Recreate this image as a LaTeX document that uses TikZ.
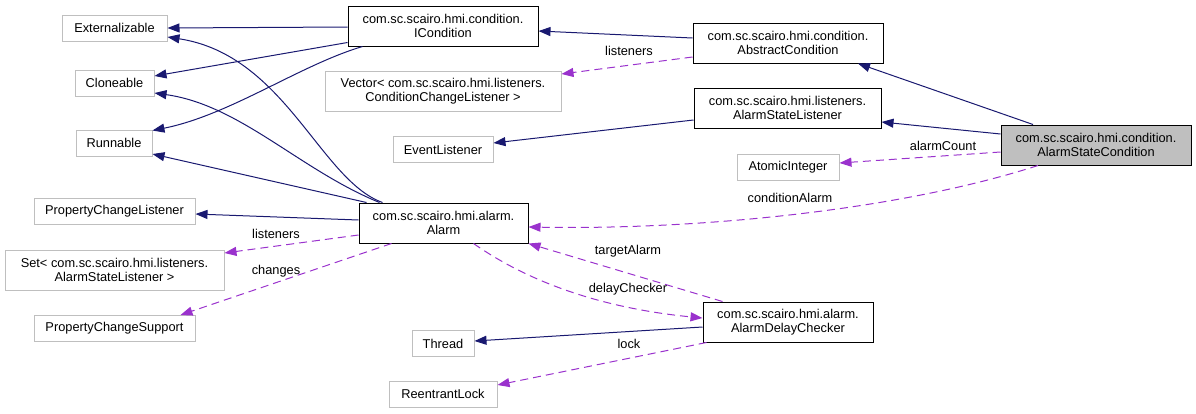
\documentclass[tikz,border=0pt]{standalone}
\usepackage{fontspec}
\setmainfont{Liberation Sans}
\usepackage{xcolor}
\usepackage{tikz}
\usetikzlibrary{arrows.meta, calc}
\definecolor{dxnavy}{HTML}{191970}
\definecolor{dxpurple}{HTML}{9A32CD}
\definecolor{dxgray}{HTML}{BFBFBF}

\begin{document}
\begin{tikzpicture}[x=1pt, y=-1pt,
    every node/.style={font=\fontsize{12.8}{14.5}\selectfont, align=center, inner sep=0pt},
    cls/.style={draw=black, line width=1pt, fill=white, minimum height=40pt},
    extcls/.style={draw=dxgray, line width=1pt, fill=white, minimum height=26pt},
    inherit/.style={dxnavy, line width=1pt, -{Triangle[length=12pt, width=9pt]}},
    member/.style={dxpurple, line width=1pt, dash pattern=on 8pt off 5pt, -{Triangle[length=12pt, width=9pt]}}]
    \useasboundingbox (0,0) rectangle (1196,413);

    \node[extcls, minimum width=105pt] (ext) at (114.5,28) {Externalizable};
    \node[extcls, minimum width=79pt] (clone) at (114.5,83) {Cloneable};
    \node[extcls, minimum width=76pt] (runnable) at (114,143) {Runnable};
    \node[extcls, minimum width=161pt] (pcl) at (114.5,211) {PropertyChangeListener};
    \node[extcls, minimum width=219pt, minimum height=40pt] (setlst) at (114.5,270) {Set< com.sc.scairo.hmi.listeners.\\AlarmStateListener >};
    \node[extcls, minimum width=161pt] (pcs) at (114.5,328.5) {PropertyChangeSupport};

    \node[cls, minimum width=190pt] (icond) at (443,26) {com.sc.scairo.hmi.condition.\\ICondition};
    \node[extcls, minimum width=236pt, minimum height=40pt] (vector) at (443,91) {Vector< com.sc.scairo.hmi.listeners.\\ConditionChangeListener >};
    \node[extcls, minimum width=100pt] (evl) at (443,149.5) {EventListener};
    \node[cls, minimum width=169pt] (alarm) at (443.5,223) {com.sc.scairo.hmi.alarm.\\Alarm};
    \node[extcls, minimum width=62pt] (thread) at (443,343.5) {Thread};
    \node[extcls, minimum width=108pt] (rlock) at (443,394) {ReentrantLock};

    \node[cls, minimum width=190pt] (abscond) at (788,43) {com.sc.scairo.hmi.condition.\\AbstractCondition};
    \node[cls, minimum width=187pt] (asl) at (787.5,108) {com.sc.scairo.hmi.listeners.\\AlarmStateListener};
    \node[extcls, minimum width=102pt] (atomic) at (788,167.5) {AtomicInteger};
    \node[cls, minimum width=170pt] (adc) at (788,322) {com.sc.scairo.hmi.alarm.\\AlarmDelayChecker};

    \node[cls, minimum width=190pt, fill=dxgray] (asc) at (1096,145) {com.sc.scairo.hmi.condition.\\AlarmStateCondition};

    % inheritance
    \draw[inherit] ($(icond.west)+(0,1)$) -- (ext.east);
    \draw[inherit] ($(icond.south west)+(0,-4)$) -- ($(clone.east)+(0,-7)$);
    \draw[inherit] ($(icond.south west)+(15,0)$) .. controls (300,65) and (230,115) .. ($(runnable.north east)+(0,1)$);
    \draw[inherit] ($(alarm.north west)+(24,0)$) .. controls (320,180) and (285,55) .. ($(ext.east)+(0,9)$);
    \draw[inherit] ($(alarm.north west)+(21,0)$) .. controls (300,170) and (240,105) .. ($(clone.east)+(0,10)$);
    \draw[inherit] ($(alarm.north west)+(8,0)$) -- ($(runnable.east)+(0,11)$);
    \draw[inherit] ($(alarm.west)+(0,-3)$) -- ($(pcl.east)+(0,3)$);
    \draw[inherit] ($(abscond.west)+(0,-5)$) -- ($(icond.east)+(0,5)$);
    \draw[inherit] ($(asl.west)+(0,12)$) -- ($(evl.east)+(0,-6.5)$);
    \draw[inherit] ($(asc.north)+(-63,0)$) -- ($(abscond.south)+(70,0)$);
    \draw[inherit] ($(asc.west)+(0,-11)$) -- ($(asl.east)+(0,14)$);
    \draw[inherit] ($(adc.west)+(0,5)$) -- ($(thread.east)+(0,-2.5)$);

    % members
    \draw[member] ($(abscond.west)+(0,14)$) -- ($(vector.east)+(0,-17)$);
    \draw[member] ($(asc.west)+(0,7)$) -- ($(atomic.east)+(0,-4.5)$);
    \draw[member] ($(asc.south)+(-58,0)$) .. controls (900,210) and (700,230) .. ($(alarm.east)+(0,4)$);
    \draw[member] ($(adc.north west)+(20,0)$) -- (alarm.south east);
    \draw[member] ($(alarm.south)+(30,0)$) .. controls (540,290) and (620,310) .. ($(adc.west)+(0,-4)$);
    \draw[member] ($(adc.south west)+(4,0)$) -- ($(rlock.east)+(0,-9)$);
    \draw[member] ($(alarm.west)+(0,12)$) -- ($(setlst.east)+(0,-17)$);
    \draw[member] ($(alarm.south west)+(33,0)$) -- ($(pcs.north east)+(-15,0)$);

    \node (lb-vlisteners) at (629,51) {listeners};
    \node (lb-count) at (943,146) {alarmCount};
    \node (lb-cond) at (790,198) {conditionAlarm};
    \node (lb-target) at (628,251) {targetAlarm};
    \node (lb-delay) at (628,289) {delayChecker};
    \node (lb-lock) at (629,344) {lock};
    \node (lb-slisteners) at (276,234) {listeners};
    \node (lb-changes) at (276,271) {changes};
\end{tikzpicture}
\end{document}
